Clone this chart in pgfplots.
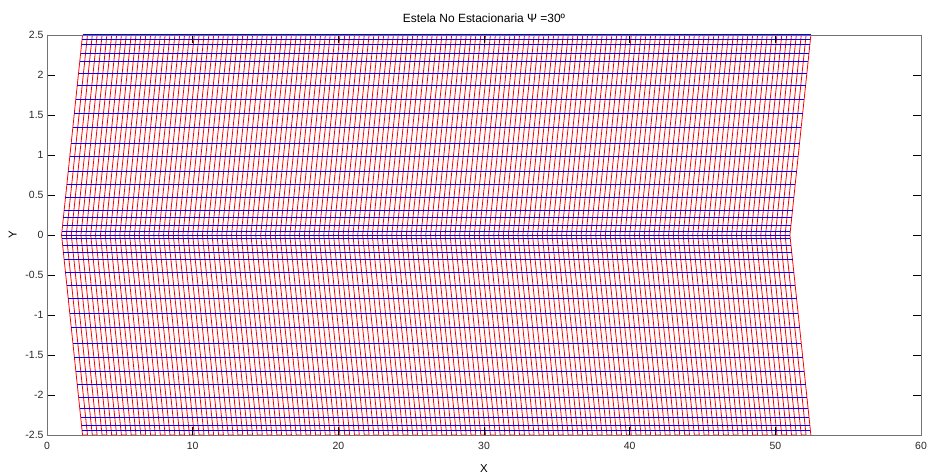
\documentclass[border=0pt]{standalone}
\usepackage{fontspec}
\setmainfont{Liberation Sans}
\usepackage{pgfplots}
\pgfplotsset{compat=1.18}

\begin{document}
\begin{tikzpicture}
\begin{axis}[
  width=874bp, height=400bp, scale only axis,
  xmin=0, xmax=60, ymin=-2.5, ymax=2.5,
  xtick={0,10,20,30,40,50,60},
  xticklabels={0,10,20,30,40,50,60},
  ytick={-2.5,-2,-1.5,-1,-0.5,0,0.5,1,1.5,2,2.5},
  yticklabels={-2.5,-2,-1.5,-1,-0.5,0,0.5,1,1.5,2,2.5},
  tick align=inside, major tick length=8bp,
  tick style={black, line width=0.7bp},
  axis line style={black!55, line width=0.9bp},
  axis on top,
  tick label style={font=\fontsize{10.5}{12}\selectfont, text=black!85},
  xticklabel style={yshift=-4bp},
  title={Estela No Estacionaria Ψ =30º},
  title style={font=\fontsize{12}{14}\selectfont, yshift=3bp},
  xlabel={X}, ylabel={Y},
  label style={font=\fontsize{11.5}{13}\selectfont},
  xlabel style={yshift=-8bp},
  ylabel style={yshift=2bp},
  unbounded coords=jump,
]
% chordwise wake lines (swept 30 deg), one zigzag path
\addplot[red, line width=0.8bp, line join=round] coordinates {
(2.44,2.5)(1,0)(2.44,-2.5)(2.78,-2.5)(1.33,0)(2.78,2.5)(3.11,2.5)(1.67,0)(3.11,-2.5)
(3.44,-2.5)(2,0)(3.44,2.5)(3.78,2.5)(2.33,0)(3.78,-2.5)(4.11,-2.5)(2.67,0)(4.11,2.5)
(4.44,2.5)(3,0)(4.44,-2.5)(4.78,-2.5)(3.33,0)(4.78,2.5)(5.11,2.5)(3.67,0)(5.11,-2.5)
(5.44,-2.5)(4,0)(5.44,2.5)(5.78,2.5)(4.33,0)(5.78,-2.5)(6.11,-2.5)(4.67,0)(6.11,2.5)
(6.44,2.5)(5,0)(6.44,-2.5)(6.78,-2.5)(5.33,0)(6.78,2.5)(7.11,2.5)(5.67,0)(7.11,-2.5)
(7.44,-2.5)(6,0)(7.44,2.5)(7.78,2.5)(6.33,0)(7.78,-2.5)(8.11,-2.5)(6.67,0)(8.11,2.5)
(8.44,2.5)(7,0)(8.44,-2.5)(8.78,-2.5)(7.33,0)(8.78,2.5)(9.11,2.5)(7.67,0)(9.11,-2.5)
(9.44,-2.5)(8,0)(9.44,2.5)(9.78,2.5)(8.33,0)(9.78,-2.5)(10.11,-2.5)(8.67,0)(10.11,2.5)
(10.44,2.5)(9,0)(10.44,-2.5)(10.78,-2.5)(9.33,0)(10.78,2.5)(11.11,2.5)(9.67,0)(11.11,-2.5)
(11.44,-2.5)(10,0)(11.44,2.5)(11.78,2.5)(10.33,0)(11.78,-2.5)(12.11,-2.5)(10.67,0)(12.11,2.5)
(12.44,2.5)(11,0)(12.44,-2.5)(12.78,-2.5)(11.33,0)(12.78,2.5)(13.11,2.5)(11.67,0)(13.11,-2.5)
(13.44,-2.5)(12,0)(13.44,2.5)(13.78,2.5)(12.33,0)(13.78,-2.5)(14.11,-2.5)(12.67,0)(14.11,2.5)
(14.44,2.5)(13,0)(14.44,-2.5)(14.78,-2.5)(13.33,0)(14.78,2.5)(15.11,2.5)(13.67,0)(15.11,-2.5)
(15.44,-2.5)(14,0)(15.44,2.5)(15.78,2.5)(14.33,0)(15.78,-2.5)(16.11,-2.5)(14.67,0)(16.11,2.5)
(16.44,2.5)(15,0)(16.44,-2.5)(16.78,-2.5)(15.33,0)(16.78,2.5)(17.11,2.5)(15.67,0)(17.11,-2.5)
(17.44,-2.5)(16,0)(17.44,2.5)(17.78,2.5)(16.33,0)(17.78,-2.5)(18.11,-2.5)(16.67,0)(18.11,2.5)
(18.44,2.5)(17,0)(18.44,-2.5)(18.78,-2.5)(17.33,0)(18.78,2.5)(19.11,2.5)(17.67,0)(19.11,-2.5)
(19.44,-2.5)(18,0)(19.44,2.5)(19.78,2.5)(18.33,0)(19.78,-2.5)(20.11,-2.5)(18.67,0)(20.11,2.5)
(20.44,2.5)(19,0)(20.44,-2.5)(20.78,-2.5)(19.33,0)(20.78,2.5)(21.11,2.5)(19.67,0)(21.11,-2.5)
(21.44,-2.5)(20,0)(21.44,2.5)(21.78,2.5)(20.33,0)(21.78,-2.5)(22.11,-2.5)(20.67,0)(22.11,2.5)
(22.44,2.5)(21,0)(22.44,-2.5)(22.78,-2.5)(21.33,0)(22.78,2.5)(23.11,2.5)(21.67,0)(23.11,-2.5)
(23.44,-2.5)(22,0)(23.44,2.5)(23.78,2.5)(22.33,0)(23.78,-2.5)(24.11,-2.5)(22.67,0)(24.11,2.5)
(24.44,2.5)(23,0)(24.44,-2.5)(24.78,-2.5)(23.33,0)(24.78,2.5)(25.11,2.5)(23.67,0)(25.11,-2.5)
(25.44,-2.5)(24,0)(25.44,2.5)(25.78,2.5)(24.33,0)(25.78,-2.5)(26.11,-2.5)(24.67,0)(26.11,2.5)
(26.44,2.5)(25,0)(26.44,-2.5)(26.78,-2.5)(25.33,0)(26.78,2.5)(27.11,2.5)(25.67,0)(27.11,-2.5)
(27.44,-2.5)(26,0)(27.44,2.5)(27.78,2.5)(26.33,0)(27.78,-2.5)(28.11,-2.5)(26.67,0)(28.11,2.5)
(28.44,2.5)(27,0)(28.44,-2.5)(28.78,-2.5)(27.33,0)(28.78,2.5)(29.11,2.5)(27.67,0)(29.11,-2.5)
(29.44,-2.5)(28,0)(29.44,2.5)(29.78,2.5)(28.33,0)(29.78,-2.5)(30.11,-2.5)(28.67,0)(30.11,2.5)
(30.44,2.5)(29,0)(30.44,-2.5)(30.78,-2.5)(29.33,0)(30.78,2.5)(31.11,2.5)(29.67,0)(31.11,-2.5)
(31.44,-2.5)(30,0)(31.44,2.5)(31.78,2.5)(30.33,0)(31.78,-2.5)(32.11,-2.5)(30.67,0)(32.11,2.5)
(32.44,2.5)(31,0)(32.44,-2.5)(32.78,-2.5)(31.33,0)(32.78,2.5)(33.11,2.5)(31.67,0)(33.11,-2.5)
(33.44,-2.5)(32,0)(33.44,2.5)(33.78,2.5)(32.33,0)(33.78,-2.5)(34.11,-2.5)(32.67,0)(34.11,2.5)
(34.44,2.5)(33,0)(34.44,-2.5)(34.78,-2.5)(33.33,0)(34.78,2.5)(35.11,2.5)(33.67,0)(35.11,-2.5)
(35.44,-2.5)(34,0)(35.44,2.5)(35.78,2.5)(34.33,0)(35.78,-2.5)(36.11,-2.5)(34.67,0)(36.11,2.5)
(36.44,2.5)(35,0)(36.44,-2.5)(36.78,-2.5)(35.33,0)(36.78,2.5)(37.11,2.5)(35.67,0)(37.11,-2.5)
(37.44,-2.5)(36,0)(37.44,2.5)(37.78,2.5)(36.33,0)(37.78,-2.5)(38.11,-2.5)(36.67,0)(38.11,2.5)
(38.44,2.5)(37,0)(38.44,-2.5)(38.78,-2.5)(37.33,0)(38.78,2.5)(39.11,2.5)(37.67,0)(39.11,-2.5)
(39.44,-2.5)(38,0)(39.44,2.5)(39.78,2.5)(38.33,0)(39.78,-2.5)(40.11,-2.5)(38.67,0)(40.11,2.5)
(40.44,2.5)(39,0)(40.44,-2.5)(40.78,-2.5)(39.33,0)(40.78,2.5)(41.11,2.5)(39.67,0)(41.11,-2.5)
(41.44,-2.5)(40,0)(41.44,2.5)(41.78,2.5)(40.33,0)(41.78,-2.5)(42.11,-2.5)(40.67,0)(42.11,2.5)
(42.44,2.5)(41,0)(42.44,-2.5)(42.78,-2.5)(41.33,0)(42.78,2.5)(43.11,2.5)(41.67,0)(43.11,-2.5)
(43.44,-2.5)(42,0)(43.44,2.5)(43.78,2.5)(42.33,0)(43.78,-2.5)(44.11,-2.5)(42.67,0)(44.11,2.5)
(44.44,2.5)(43,0)(44.44,-2.5)(44.78,-2.5)(43.33,0)(44.78,2.5)(45.11,2.5)(43.67,0)(45.11,-2.5)
(45.44,-2.5)(44,0)(45.44,2.5)(45.78,2.5)(44.33,0)(45.78,-2.5)(46.11,-2.5)(44.67,0)(46.11,2.5)
(46.44,2.5)(45,0)(46.44,-2.5)(46.78,-2.5)(45.33,0)(46.78,2.5)(47.11,2.5)(45.67,0)(47.11,-2.5)
(47.44,-2.5)(46,0)(47.44,2.5)(47.78,2.5)(46.33,0)(47.78,-2.5)(48.11,-2.5)(46.67,0)(48.11,2.5)
(48.44,2.5)(47,0)(48.44,-2.5)(48.78,-2.5)(47.33,0)(48.78,2.5)(49.11,2.5)(47.67,0)(49.11,-2.5)
(49.44,-2.5)(48,0)(49.44,2.5)(49.78,2.5)(48.33,0)(49.78,-2.5)(50.11,-2.5)(48.67,0)(50.11,2.5)
(50.44,2.5)(49,0)(50.44,-2.5)(50.78,-2.5)(49.33,0)(50.78,2.5)(51.11,2.5)(49.67,0)(51.11,-2.5)
(51.44,-2.5)(50,0)(51.44,2.5)(51.78,2.5)(50.33,0)(51.78,-2.5)(52.11,-2.5)(50.67,0)(52.11,2.5)
(52.44,2.5)(51,0)(52.44,-2.5)
};
% spanwise wake lines
\addplot[blue, line width=1bp] table[row sep=\\] {
x y \\
2.44 2.5 \\ 52.44 2.5 \\ nan nan \\
2.41 2.44 \\ 52.41 2.44 \\ nan nan \\
2.37 2.38 \\ 52.37 2.38 \\ nan nan \\
2.31 2.275 \\ 52.31 2.275 \\ nan nan \\
2.25 2.17 \\ 52.25 2.17 \\ nan nan \\
2.17 2.025 \\ 52.17 2.025 \\ nan nan \\
2.08 1.87 \\ 52.08 1.87 \\ nan nan \\
1.98 1.70 \\ 51.98 1.70 \\ nan nan \\
1.88 1.525 \\ 51.88 1.525 \\ nan nan \\
1.78 1.35 \\ 51.78 1.35 \\ nan nan \\
1.66 1.15 \\ 51.66 1.15 \\ nan nan \\
1.57 0.98 \\ 51.57 0.98 \\ nan nan \\
1.46 0.79 \\ 51.46 0.79 \\ nan nan \\
1.36 0.63 \\ 51.36 0.63 \\ nan nan \\
1.27 0.47 \\ 51.27 0.47 \\ nan nan \\
1.18 0.31 \\ 51.18 0.31 \\ nan nan \\
1.13 0.22 \\ 51.13 0.22 \\ nan nan \\
1.07 0.125 \\ 51.07 0.125 \\ nan nan \\
1.02 0.04 \\ 51.02 0.04 \\ nan nan \\
1.00 0 \\ 51.00 0 \\ nan nan \\
1.02 -0.04 \\ 51.02 -0.04 \\ nan nan \\
1.07 -0.125 \\ 51.07 -0.125 \\ nan nan \\
1.13 -0.22 \\ 51.13 -0.22 \\ nan nan \\
1.18 -0.31 \\ 51.18 -0.31 \\ nan nan \\
1.27 -0.47 \\ 51.27 -0.47 \\ nan nan \\
1.36 -0.63 \\ 51.36 -0.63 \\ nan nan \\
1.46 -0.79 \\ 51.46 -0.79 \\ nan nan \\
1.57 -0.98 \\ 51.57 -0.98 \\ nan nan \\
1.66 -1.15 \\ 51.66 -1.15 \\ nan nan \\
1.78 -1.35 \\ 51.78 -1.35 \\ nan nan \\
1.88 -1.525 \\ 51.88 -1.525 \\ nan nan \\
1.98 -1.70 \\ 51.98 -1.70 \\ nan nan \\
2.08 -1.87 \\ 52.08 -1.87 \\ nan nan \\
2.17 -2.025 \\ 52.17 -2.025 \\ nan nan \\
2.25 -2.17 \\ 52.25 -2.17 \\ nan nan \\
2.31 -2.275 \\ 52.31 -2.275 \\ nan nan \\
2.37 -2.38 \\ 52.37 -2.38 \\ nan nan \\
2.41 -2.44 \\ 52.41 -2.44 \\ nan nan \\
2.44 -2.5 \\ 52.44 -2.5 \\
};
\end{axis}
\path ([xshift=-47bp,yshift=-40bp]current axis.south west) rectangle ([xshift=12bp,yshift=35bp]current axis.north east);
\end{tikzpicture}
\end{document}
